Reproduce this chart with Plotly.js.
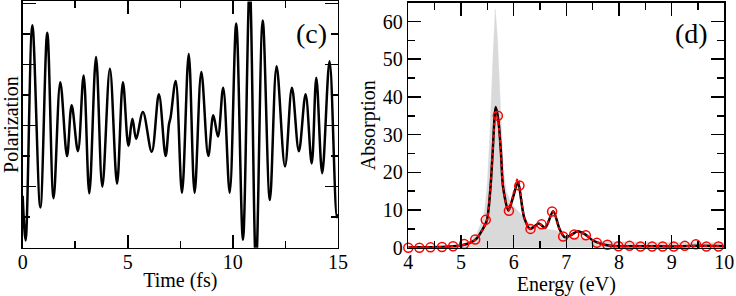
<!DOCTYPE html>
<html>
<head>
<meta charset="utf-8">
<script src="https://cdn.plot.ly/plotly-3.0.1.min.js"></script>
<style>html,body{margin:0;padding:0;background:#fff;}#chart{width:736px;height:296px;}</style>
</head>
<body>
<div id="chart"></div>
<script>
// Panel (c): polarization vs time (extrema and a few shape points)
const timeFs = [0, 0.14, 0.46, 0.84, 1.17, 1.47, 1.79, 2.11, 2.33, 2.63, 2.90, 3.17, 3.49, 3.79, 4.15, 4.49, 4.77, 5.03, 5.22, 5.40, 5.72, 6.14, 6.48, 6.80, 6.96, 7.04, 7.28, 7.58, 7.90, 8.18, 8.50, 8.83, 9.07, 9.29, 9.54, 9.85, 10.16, 10.48, 10.80, 11.10, 11.42, 11.76, 12.08, 12.48, 12.81, 13.14, 13.46, 13.75, 13.97, 14.25, 14.60, 14.95, 15];
const polarization = [-1.15, -1.88, 1.64, -1.34, 1.52, -1.19, 0.71, -0.5, 0.33, -0.42, 0.82, -1.11, 1.12, -1.0, 0.93, -0.95, 0.71, -0.33, 0.11, -0.22, 0.22, -0.43, 0.51, -0.5, 0.02, 0.14, 0.73, -1.1, 1.17, -1.1, 0.875, -0.5, 0.17, -0.18, 0.62, -1.1, 1.67, -1.87, 2.3, -2.3, 1.72, -1.22, 0.97, -0.67, 0.62, -0.42, 0.51, -0.62, 0.78, -0.78, 1.05, -1.5, -1.45];

// Panel (d): absorption spectra
const grayEnergy = [4.0, 4.5, 4.8, 5.0, 5.1, 5.2, 5.3, 5.38, 5.45, 5.5, 5.55, 5.6, 5.65, 5.69, 5.74, 5.8, 5.86, 5.93, 6.0, 6.1, 6.2, 6.3, 6.45, 6.6, 6.8, 6.9, 7.0, 7.2, 7.5, 7.6, 8.0, 9.0, 10.0];
const grayAbs = [0.1, 0.2, 0.4, 0.7, 1.1, 2.0, 3.7, 6.5, 10, 17, 30, 48, 63.2, 56, 39, 21.4, 15, 12.6, 11, 9.5, 7.8, 6.5, 5.5, 5.0, 4.6, 4.0, 3.0, 2.7, 2.1, 1.8, 1.6, 1.4, 1.3];

const blackEnergy = [4.0, 4.4, 4.8, 5.0, 5.2, 5.3, 5.4, 5.49, 5.56, 5.6, 5.66, 5.71, 5.76, 5.8, 5.9, 5.98, 6.08, 6.2, 6.31, 6.48, 6.6, 6.75, 6.87, 6.97, 7.08, 7.22, 7.35, 7.5, 7.65, 7.8, 8.0, 8.5, 9.0, 9.5, 10.0];
const blackAbs = [0.1, 0.15, 0.35, 0.6, 1.5, 2.5, 4.6, 7.2, 16, 25, 37.3, 33.8, 25, 16, 9.9, 13, 17.2, 8, 5.0, 6.4, 5.3, 9.7, 5, 2.8, 3.3, 4.4, 3.6, 2.0, 1.1, 0.6, 0.4, 0.4, 0.35, 0.5, 0.4];

const dotEnergy = [4.0, 4.4, 4.8, 5.0, 5.2, 5.3, 5.4, 5.49, 5.56, 5.6, 5.66, 5.71, 5.76, 5.8, 5.9, 5.98, 6.08, 6.2, 6.31, 6.5, 6.6, 6.75, 6.87, 6.97, 7.08, 7.2, 7.35, 7.5, 7.65, 7.8, 8.0, 8.5, 9.0, 9.5, 10.0];
const dotAbs = [0.1, 0.15, 0.35, 0.6, 1.5, 2.5, 4.6, 7.2, 16, 25, 36, 33, 25, 16, 9.8, 13.5, 18.3, 8.2, 5.0, 6.2, 5.3, 9.6, 5, 2.9, 3.3, 4.3, 3.6, 2.0, 1.1, 0.6, 0.4, 0.4, 0.35, 0.5, 0.4];

const circleEnergy = [4.0, 4.21, 4.42, 4.64, 4.85, 5.06, 5.27, 5.47, 5.70, 5.91, 6.11, 6.32, 6.53, 6.73, 6.94, 7.15, 7.37, 7.58, 7.78, 7.99, 8.20, 8.41, 8.63, 8.83, 9.04, 9.25, 9.46, 9.66, 9.89];
const circleAbs = [0.0, 0.0, 0.1, 0.2, 0.4, 1.0, 2.2, 7.4, 35, 9.8, 16.5, 5.0, 6.2, 9.6, 3.0, 3.5, 3.3, 1.3, 0.8, 0.4, 0.5, 0.3, 0.3, 0.3, 0.3, 0.5, 0.9, 0.3, 0.35];

const xTicksLeft = [0, 5, 10, 15];
const xTicksRight = [4, 5, 6, 7, 8, 9, 10];
const yTicksRight = [0, 10, 20, 30, 40, 50, 60];

const FONT = '"Liberation Serif", "Times New Roman", "DejaVu Serif", serif';
const FS = 20;

const traces = [
  {x: timeFs, y: polarization, type: 'scatter', mode: 'lines', xaxis: 'x', yaxis: 'y',
   line: {color: '#000', width: 2.5, shape: 'spline', smoothing: 1}, name: 'Polarization', showlegend: false},
  {x: grayEnergy, y: grayAbs, type: 'scatter', mode: 'lines', fill: 'tozeroy', xaxis: 'x2', yaxis: 'y2',
   fillcolor: 'rgb(217,217,217)', line: {color: 'rgb(217,217,217)', width: 0.5}, showlegend: false},
  {x: blackEnergy, y: blackAbs, type: 'scatter', mode: 'lines', xaxis: 'x2', yaxis: 'y2',
   line: {color: '#000', width: 2.5, shape: 'spline', smoothing: 0.8}, showlegend: false},
  {x: dotEnergy, y: dotAbs, type: 'scatter', mode: 'lines', xaxis: 'x2', yaxis: 'y2',
   line: {color: 'rgb(255,0,0)', width: 2, dash: 'dot', shape: 'spline', smoothing: 0.8}, showlegend: false},
  {x: circleEnergy, y: circleAbs, type: 'scatter', mode: 'markers', xaxis: 'x2', yaxis: 'y2', cliponaxis: false,
   marker: {symbol: 'circle-open', size: 9, color: 'rgb(255,0,0)', line: {width: 1.5, color: 'rgb(255,0,0)'}}, showlegend: false}
];

function axisCommon() {
  return {
    showline: true, linecolor: '#000', linewidth: 1.5, mirror: 'ticks',
    ticks: 'inside', ticklen: 13, tickwidth: 1.5, tickcolor: '#000',
    showgrid: false, zeroline: false, fixedrange: true,
    tickfont: {family: FONT, size: FS, color: '#000'}
  };
}

const layout = {
  width: 736, height: 296,
  margin: {l: 0, r: 0, t: 0, b: 0},
  paper_bgcolor: '#fff', plot_bgcolor: '#fff',
  font: {family: FONT, color: '#000'},
  showlegend: false,
  xaxis: Object.assign(axisCommon(), {
    domain: [0.0308, 0.4592], range: [0, 15], tickmode: 'array', tickvals: xTicksLeft,
    minor: {dtick: 2.5, tick0: 0, ticks: 'inside', ticklen: 7, tickwidth: 1.5, tickcolor: '#000'},
    ticklabelstandoff: -4,
    anchor: 'y', title: {text: 'Time (fs)', font: {family: FONT, size: FS, color: '#000'}, standoff: 0}
  }),
  yaxis: Object.assign(axisCommon(), {
    domain: [0.163, 0.995], range: [-2, 2.03], tickmode: 'linear', tick0: 0, dtick: 1,
    minor: {dtick: 0.5, tick0: 0, ticks: 'inside', ticklen: 7, tickwidth: 1.5, tickcolor: '#000'},
    showticklabels: false, anchor: 'x',
    title: {text: 'Polarization', font: {family: FONT, size: FS, color: '#000'}, standoff: 2}
  }),
  xaxis2: Object.assign(axisCommon(), {
    domain: [0.5548, 0.9841], range: [4, 10], tickmode: 'array', tickvals: xTicksRight,
    minor: {dtick: 0.5, tick0: 0, ticks: 'inside', ticklen: 7, tickwidth: 1.5, tickcolor: '#000'},
    ticklabelstandoff: -4,
    anchor: 'y2', title: {text: 'Energy (eV)', font: {family: FONT, size: FS, color: '#000'}, standoff: 0}
  }),
  yaxis2: Object.assign(axisCommon(), {
    domain: [0.163, 0.991], range: [0, 65], tickmode: 'array', tickvals: yTicksRight,
    minor: {dtick: 5, tick0: 0, ticks: 'inside', ticklen: 7, tickwidth: 1.5, tickcolor: '#000'},
    anchor: 'x2', title: {text: 'Absorption', font: {family: FONT, size: FS, color: '#000'}, standoff: 2}
  }),
  annotations: [
    {text: '(c)', xref: 'x', yref: 'y', x: 13.76, y: 1.5, showarrow: false,
     font: {family: FONT, size: 28, color: '#000'}},
    {text: '(d)', xref: 'x2', yref: 'y2', x: 9.38, y: 56.8, showarrow: false,
     font: {family: FONT, size: 28, color: '#000'}}
  ]
};

Plotly.newPlot('chart', traces, layout, {staticPlot: true, displayModeBar: false});
</script>
</body>
</html>
